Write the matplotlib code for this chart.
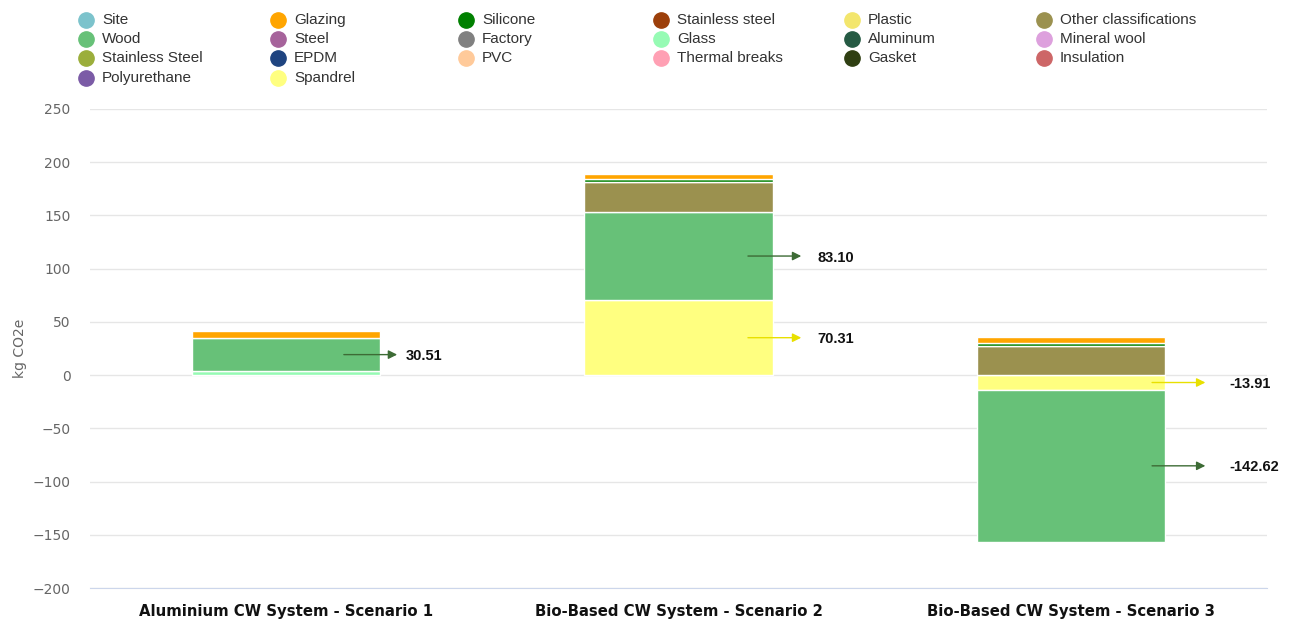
import numpy as np
import matplotlib
matplotlib.use("Agg")
import matplotlib.pyplot as plt
from matplotlib.lines import Line2D

# Datos del gráfico
categories = ["Aluminium CW System - Scenario 1",
              "Bio-Based CW System - Scenario 2",
              "Bio-Based CW System - Scenario 3"]

series_names = ["Site", "Glazing", "Silicone", "Stainless steel", "Plastic",
                "Other classifications", "Wood", "Steel", "Factory", "Glass",
                "Aluminum", "Mineral wool", "Stainless Steel", "EPDM", "PVC",
                "Thermal breaks", "Gasket", "Insulation", "Polyurethane", "Spandrel"]

series_colors = ["#7cc3cc", "#ffa500", "#008000", "#9c3f0a", "#f3e66d",
                 "#9b914f", "#67c178", "#a6639b", "#808080", "#96fbb4",
                 "#255a43", "#dda0dd", "#9bae3b", "#1f4480", "#ffca9a",
                 "#ffa0b4", "#2f3f12", "#cd6667", "#7b5ba6", "#ffff80"]

glazing = [6.5, 5.0, 5.5]
silicone = [0.0, 2.5, 3.0]
other_classifications = [0.0, 28.0, 27.5]
wood = [30.51, 83.10, -142.62]
glass = [4.0, 0.0, 0.0]
spandrel = [0.0, 70.31, -13.91]

values = {name: [0.0, 0.0, 0.0] for name in series_names}
values["Glazing"] = glazing
values["Silicone"] = silicone
values["Other classifications"] = other_classifications
values["Wood"] = wood
values["Glass"] = glass
values["Spandrel"] = spandrel

# Etiquetas con flecha: (categoría, serie, color de flecha)
annotations = [(0, "Wood", "#3d6b35"),
               (1, "Wood", "#3d6b35"),
               (1, "Spandrel", "#e8e000"),
               (2, "Spandrel", "#e8e000"),
               (2, "Wood", "#3d6b35")]

fig = plt.figure(figsize=(12.91, 6.25), dpi=100)
ax = fig.add_axes([0.0697, 0.0592, 0.9117, 0.7664])

x = np.arange(len(categories))
bar_w = 0.48
pos_base = np.zeros(len(categories))
neg_base = np.zeros(len(categories))
mids = {}
# la última serie queda más cerca de cero (apilado tipo Highcharts)
for name, color in reversed(list(zip(series_names, series_colors))):
    vals = np.array(values[name], dtype=float)
    bottoms = np.where(vals >= 0, pos_base, neg_base)
    mask = vals != 0
    if mask.any():
        ax.bar(x[mask], vals[mask], bar_w, bottom=bottoms[mask], color=color,
               edgecolor="white", linewidth=1, zorder=3)
    for i in range(len(categories)):
        mids[(i, name)] = bottoms[i] + vals[i] / 2
    pos_base = pos_base + np.where(vals > 0, vals, 0)
    neg_base = neg_base + np.where(vals < 0, vals, 0)

for ci, name, col in annotations:
    y = mids[(ci, name)]
    start = ci + 0.14 + 0.03 * ci
    end = start + 0.15
    ax.annotate("", xy=(end, y), xytext=(start, y),
                arrowprops=dict(arrowstyle="-|>", color=col, lw=1.0,
                                mutation_scale=13), zorder=5)
    ax.text(end + 0.015 + 0.02 * ci, y - 1.5, f"{values[name][ci]:.2f}",
            fontsize=10.5, fontweight="bold", family="Liberation Sans",
            va="center", ha="left", color="#111111", zorder=5)

ax.set_xlim(-0.5, 2.5)
ax.set_ylim(-200, 250)
ax.tick_params(axis="y", length=0, labelsize=10, labelcolor="#666666", pad=14)
ax.set_yticks(np.arange(-200, 251, 50))
ax.set_xticks([])
# etiquetas de categoría en negrita
for xi, cat in zip(x, categories):
    ax.text(xi, -0.05, cat, transform=ax.get_xaxis_transform(),
            fontsize=10.7, fontweight="bold", family="DejaVu Sans",
            color="#111111", ha="center", va="center")
ax.yaxis.grid(True, color="#e6e6e6", linewidth=1, zorder=0)
ax.set_axisbelow(True)
for s in ["top", "right", "left"]:
    ax.spines[s].set_visible(False)
ax.spines["bottom"].set_color("#ccd6eb")
ax.spines["bottom"].set_position(("data", -200))
ax.set_ylabel("kg CO2e", fontsize=10, color="#666666", labelpad=4)

# Leyenda manual en 6 columnas
col_x = [86, 278, 466, 661, 852, 1044]
row_y = [20, 39, 58, 78]
W, H = 1291, 625
for i, (name, color) in enumerate(zip(series_names, series_colors)):
    c, r = i % 6, i // 6
    fx, fy = col_x[c] / W, 1 - row_y[r] / H
    fig.add_artist(Line2D([fx], [fy], marker="o", markersize=11,
                          color=color, linestyle="none",
                          transform=fig.transFigure))
    fig.text(fx + 16 / W, fy, name, fontsize=11, family="Liberation Sans",
             color="#333333", va="center", ha="left")

fig.savefig("out.png", dpi=100)
